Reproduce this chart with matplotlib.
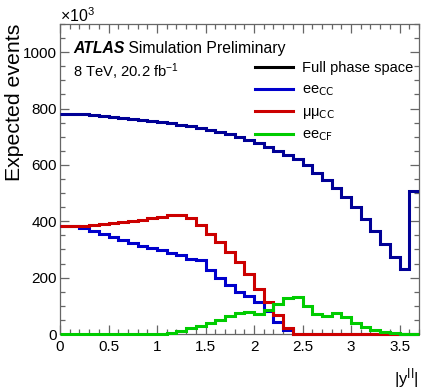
import matplotlib
matplotlib.use('Agg')
import matplotlib.pyplot as plt
import numpy as np
from matplotlib.lines import Line2D
from matplotlib.ticker import MultipleLocator, FixedLocator, FixedFormatter

# |y_ll| binning: 37 bins of width 0.1
bin_edges = np.linspace(0.0, 3.7, 38)

# Expected events (x10^3) per bin
full_phase_space = [780, 780, 780, 776, 774, 770, 768, 763, 760, 756, 753, 748, 742,
                    738, 730, 723, 718, 709, 700, 688, 677, 664, 650, 636, 620,
                    599, 573, 548, 517, 485, 450, 409, 367, 320, 273, 230, 506]
ee_cc = [385, 384, 377, 367, 356, 344, 334, 324, 314, 306, 297, 289, 279,
         267, 264, 226, 197, 173, 149, 136, 114, 82, 43, 14,
         0, 0, 0, 0, 0, 0, 0, 0, 0, 0, 0, 0, 0]
mumu_cc = [385, 383, 385, 387, 391, 395, 398, 402, 405, 410, 416, 422, 424,
           411, 387, 356, 326, 292, 255, 214, 161, 114, 69, 22,
           0, 0, 0, 0, 0, 0, 0, 0, 0, 0, 0, 0, 0]
ee_cf = [0, 0, 0, 0, 0, 0, 0, 0, 0, 0, 0, 5, 12,
         20, 27, 38, 48, 63, 73, 78, 72, 85, 108, 126, 132,
         100, 72, 65, 73, 61, 40, 24, 14, 7, 2, 0, 0]

xtick_vals = [0, 0.5, 1, 1.5, 2, 2.5, 3, 3.5]
xtick_labels = ['0', '0.5', '1', '1.5', '2', '2.5', '3', '3.5']

legend_labels = ['Full phase space', 'ee$_{\\mathrm{CC}}$', 'μμ$_{\\mathrm{CC}}$', 'ee$_{\\mathrm{CF}}$']
legend_colors = ['black', '#0000cc', '#cc0000', '#00cc00']

plt.rcParams['font.family'] = ['Liberation Sans', 'DejaVu Sans']
plt.rcParams['mathtext.default'] = 'regular'

fig = plt.figure(figsize=(4.22, 3.89), dpi=100)
ax = fig.add_axes([60 / 422, 55 / 389, 359 / 422, 310 / 389])

lw = 2.2
ax.stairs(full_phase_space, bin_edges, baseline=None, color='#000096', lw=lw, zorder=3)
ax.stairs(ee_cc, bin_edges, baseline=None, color='#0000cc', lw=lw, clip_on=False, zorder=3)
ax.stairs(mumu_cc, bin_edges, baseline=None, color='#cc0000', lw=lw, clip_on=False, zorder=3)
ax.stairs(ee_cf, bin_edges, baseline=None, color='#00cc00', lw=lw, clip_on=False, zorder=3)

ax.set_xlim(0, 3.7)
ax.set_ylim(0, 1100)

ax.xaxis.set_major_locator(FixedLocator(xtick_vals))
ax.xaxis.set_major_formatter(FixedFormatter(xtick_labels))
ax.xaxis.set_minor_locator(MultipleLocator(0.1))
ax.yaxis.set_major_locator(MultipleLocator(200))
ax.yaxis.set_minor_locator(MultipleLocator(50))

ax.tick_params(which='both', direction='in', top=True, right=True, color='#666666', width=0.9)
ax.tick_params(which='major', length=6.5, labelsize=11)
ax.tick_params(axis='x', which='major', pad=4)
ax.tick_params(axis='y', which='major', pad=2)
ax.tick_params(which='minor', length=3.3)
for s in ax.spines.values():
    s.set_color('#666666')
    s.set_linewidth(0.9)

ax.set_xlabel('|y$^{\\mathrm{ll}}$|', fontsize=12, loc='right')
ax.xaxis.set_label_coords(1.0, -0.105)
ax.set_ylabel('Expected events', fontsize=15.3, loc='top')
ax.yaxis.set_label_coords(-0.1, 1.0)

fig.text(60 / 422, 1 - 22 / 389, '×10$^{3}$', fontsize=11.5, ha='left', va='baseline')

t1 = ax.text(0.036, 0.906, 'ATLAS', fontsize=11.3, fontweight='bold', fontstyle='italic',
             transform=ax.transAxes, va='baseline')
ax.annotate(' Simulation Preliminary', xy=(1, 0), xycoords=t1, fontsize=11.3, va='bottom')
ax.text(0.036, 0.829, '8 TeV, 20.2 fb$^{-1}$', fontsize=10.6, transform=ax.transAxes, va='baseline')

# legend drawn by hand to match the ROOT layout
rows_y = [0.861, 0.790, 0.719, 0.645]
for lab, col, y in zip(legend_labels, legend_colors, rows_y):
    ax.add_line(Line2D([0.543, 0.649], [y, y], transform=ax.transAxes, color=col, lw=lw))
    ax.text(0.674, y - 0.016, lab, fontsize=10.5, transform=ax.transAxes, va='baseline')

fig.savefig('out.png', dpi=100)
